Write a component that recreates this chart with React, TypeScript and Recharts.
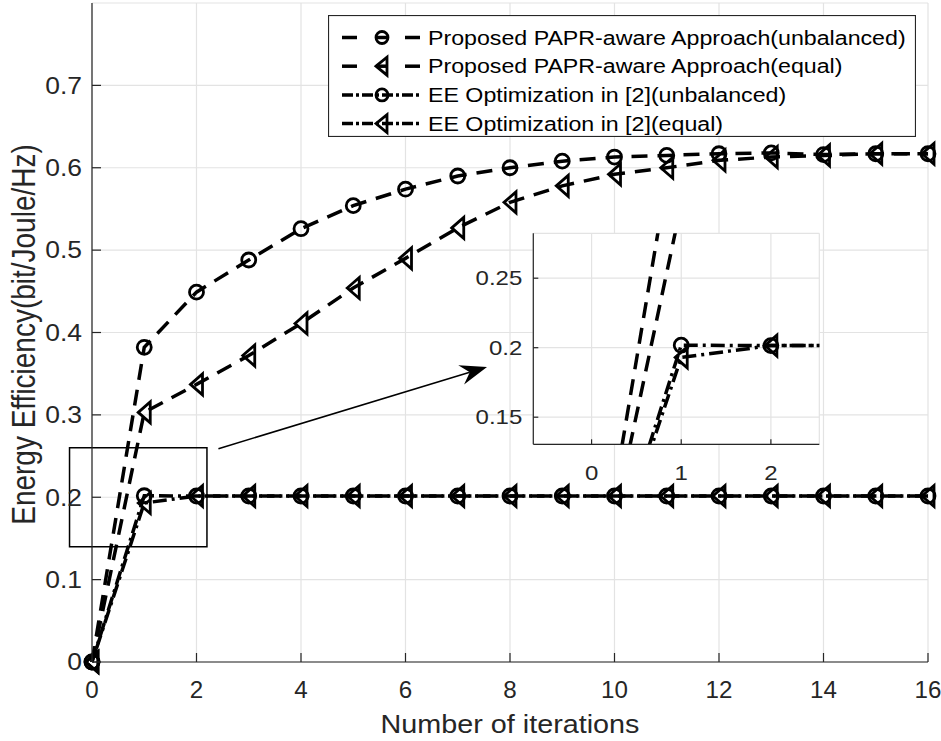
import {
  CartesianGrid,
  Legend,
  Line,
  LineChart,
  ReferenceArea,
  ReferenceLine,
  XAxis,
  YAxis,
} from 'recharts'

// energy efficiency vs. iteration count, four schemes
const iterations = [0, 1, 2, 3, 4, 5, 6, 7, 8, 9, 10, 11, 12, 13, 14, 15, 16]
const proposedUnbalanced = [
  0, 0.382, 0.449, 0.488, 0.526, 0.554, 0.574, 0.59, 0.6, 0.608, 0.613, 0.615, 0.617, 0.618, 0.616,
  0.617, 0.617,
]
const proposedEqual = [
  0, 0.303, 0.337, 0.372, 0.411, 0.454, 0.49, 0.527, 0.558, 0.578, 0.592, 0.6, 0.609, 0.613, 0.615,
  0.617, 0.617,
]
const eeUnbalanced = [
  0, 0.2018, 0.2015, 0.2015, 0.2015, 0.2015, 0.2015, 0.2015, 0.2015, 0.2015, 0.2015, 0.2015, 0.2015,
  0.2015, 0.2015, 0.2015, 0.2015,
]
const eeEqual = [
  0, 0.193, 0.2015, 0.2015, 0.2015, 0.2015, 0.2015, 0.2015, 0.2015, 0.2015, 0.2015, 0.2015, 0.2015,
  0.2015, 0.2015, 0.2015, 0.2015,
]

const seriesNames = [
  'Proposed PAPR-aware Approach(unbalanced)',
  'Proposed PAPR-aware Approach(equal)',
  'EE Optimization in [2](unbalanced)',
  'EE Optimization in [2](equal)',
]

const mainXDomain = [0, 16]
const mainYDomain = [0, 0.8]
const mainXTicks = [0, 2, 4, 6, 8, 10, 12, 14, 16]
const mainYTicks = [0, 0.1, 0.2, 0.3, 0.4, 0.5, 0.6, 0.7]

// zoomed-in window shown in the inset
const insetXDomain = [-0.65, 2.54]
const insetYDomain = [0.1305, 0.2823]
const insetXTicks = [0, 1, 2]
const insetYTicks = [0.15, 0.2, 0.25]

// annotation: box around the zoomed region and the arrow pointing to the inset
const zoomBox = { x1: -0.43, x2: 2.2, y1: 0.14, y2: 0.26 }
const arrowFrom = { x: 2.42, y: 0.259 }
const arrowTo = { x: 7.56, y: 0.358 }

const chartData = iterations.map((it, i) => ({
  it,
  pu: proposedUnbalanced[i],
  pe: proposedEqual[i],
  eu: eeUnbalanced[i],
  ee: eeEqual[i],
}))

const FONT = '"Liberation Sans", Arial, Helvetica, sans-serif'
const INK = '#262626'
const GRID = '#e3e3e3'
const DASHED = '16 10'
const DASH_DOT = '14 5 3 5'

const stretch = (x: number, y: number, sx: number) => `translate(${x},${y}) scale(${sx},1)`

// ---- markers ----
function circleDot(r: number) {
  return (p: any) => {
    if (p.cx == null || p.cy == null) return <g key={p.index} />
    return (
      <circle key={p.index} cx={p.cx} cy={p.cy} r={r} fill="none" stroke="#000" strokeWidth={2.8} />
    )
  }
}

function triangleDot(w: number, h: number) {
  return (p: any) => {
    if (p.cx == null || p.cy == null) return <g key={p.index} />
    const { cx, cy } = p
    return (
      <path
        key={p.index}
        d={`M${cx - w / 2},${cy} L${cx + w / 2},${cy - h / 2} L${cx + w / 2},${cy + h / 2} Z`}
        fill="none"
        stroke="#000"
        strokeWidth={2.8}
      />
    )
  }
}

// ---- ticks (drawn inward, MATLAB style) ----
function bottomTick(len: number, fs: number, sx: number, gap: number) {
  return (p: any) => (
    <g>
      <line x1={p.x} y1={p.y} x2={p.x} y2={p.y - len} stroke={INK} strokeWidth={1.2} />
      <text
        transform={stretch(p.x, p.y + gap, sx)}
        textAnchor="middle"
        fontFamily={FONT}
        fontSize={fs}
        fill={INK}
      >
        {p.payload.value}
      </text>
    </g>
  )
}

function leftTick(len: number, fs: number, sx: number, gap: number) {
  return (p: any) => (
    <g>
      <line x1={p.x} y1={p.y} x2={p.x + len} y2={p.y} stroke={INK} strokeWidth={1.2} />
      <text
        transform={stretch(p.x - gap, p.y + fs * 0.36, sx)}
        textAnchor="end"
        fontFamily={FONT}
        fontSize={fs}
        fill={INK}
      >
        {p.payload.value}
      </text>
    </g>
  )
}

function topTick(len: number) {
  return (p: any) => (
    <line x1={p.x} y1={p.y} x2={p.x} y2={p.y + len} stroke={INK} strokeWidth={1.2} />
  )
}

function rightTick(len: number) {
  return (p: any) => (
    <line x1={p.x} y1={p.y} x2={p.x - len} y2={p.y} stroke={INK} strokeWidth={1.2} />
  )
}

function XTitle(props: any) {
  const vb = props.viewBox ?? { x: 92, y: 662, width: 836, height: 79 }
  return (
    <text
      transform={stretch(vb.x + vb.width / 2, vb.y + 71, 1.15)}
      textAnchor="middle"
      fontFamily={FONT}
      fontSize={25}
      fill={INK}
    >
      Number of iterations
    </text>
  )
}

function YTitle(props: any) {
  const vb = props.viewBox ?? { x: 0, y: 3, width: 92, height: 659 }
  return (
    <text
      transform={`translate(35,${vb.y + vb.height / 2 + 2}) scale(1.2,1) rotate(-90)`}
      textAnchor="middle"
      fontFamily={FONT}
      fontSize={28}
      fill={INK}
    >
      Energy Efficiency(bit/Joule/Hz)
    </text>
  )
}

function ArrowShape(p: any) {
  const { x1, y1, x2, y2 } = p
  const len = Math.hypot(x2 - x1, y2 - y1)
  const ux = (x2 - x1) / len
  const uy = (y2 - y1) / len
  const head = 27
  const half = 10
  const notch = 9
  const bx = x2 - ux * head
  const by = y2 - uy * head
  const mx = x2 - ux * (head - notch)
  const my = y2 - uy * (head - notch)
  const pts = [
    [x2, y2],
    [bx - uy * half, by + ux * half],
    [mx, my],
    [bx + uy * half, by - ux * half],
  ]
  return (
    <g>
      <line x1={x1} y1={y1} x2={mx} y2={my} stroke="#000" strokeWidth={1.6} />
      <polygon points={pts.map((q) => q.join(',')).join(' ')} fill="#000" />
    </g>
  )
}

// ---- legend ----
const legendStyles = [
  { dash: DASHED, marker: 'circle' },
  { dash: DASHED, marker: 'triangle' },
  { dash: DASH_DOT, marker: 'circle' },
  { dash: DASH_DOT, marker: 'triangle' },
]

function LegendBox() {
  return (
    <svg width={588} height={122} style={{ display: 'block' }}>
      <rect x={0.5} y={0.5} width={587} height={121} fill="#fff" stroke={INK} strokeWidth={1.2} />
      {seriesNames.map((name, i) => {
        const cy = 22.5 + i * 28.7
        const st = legendStyles[i]
        return (
          <g key={name}>
            {st.dash === DASHED ? (
              <g stroke="#000" strokeWidth={3.5}>
                <line x1={14} y1={cy} x2={29} y2={cy} />
                <line x1={48} y1={cy} x2={60} y2={cy} />
                <line x1={77} y1={cy} x2={92} y2={cy} />
              </g>
            ) : (
              <line
                x1={14}
                y1={cy}
                x2={94}
                y2={cy}
                stroke="#000"
                strokeWidth={3.5}
                strokeDasharray="11 3 3 3"
              />
            )}
            {st.marker === 'circle' ? (
              <circle cx={54} cy={cy} r={6} fill="none" stroke="#000" strokeWidth={2.8} />
            ) : (
              <path
                d={`M${48},${cy} L${59},${cy - 9} L${59},${cy + 9} Z`}
                fill="none"
                stroke="#000"
                strokeWidth={2.8}
              />
            )}
            <text
              transform={stretch(100, cy + 7, 1.16)}
              fontFamily={FONT}
              fontSize={20}
              fill="#000"
            >
              {name}
            </text>
          </g>
        )
      })}
    </svg>
  )
}

function seriesLines() {
  return [
    <Line
      key="pu"
      type="linear"
      dataKey="pu"
      name={seriesNames[0]}
      stroke="#000"
      strokeWidth={3.5}
      strokeDasharray={DASHED}
      dot={circleDot(7)}
      activeDot={false}
      isAnimationActive={false}
    />,
    <Line
      key="pe"
      type="linear"
      dataKey="pe"
      name={seriesNames[1]}
      stroke="#000"
      strokeWidth={3.5}
      strokeDasharray={DASHED}
      dot={triangleDot(12, 21)}
      activeDot={false}
      isAnimationActive={false}
    />,
    <Line
      key="eu"
      type="linear"
      dataKey="eu"
      name={seriesNames[2]}
      stroke="#000"
      strokeWidth={3.5}
      strokeDasharray={DASH_DOT}
      dot={circleDot(7)}
      activeDot={false}
      isAnimationActive={false}
    />,
    <Line
      key="ee"
      type="linear"
      dataKey="ee"
      name={seriesNames[3]}
      stroke="#000"
      strokeWidth={3.5}
      strokeDasharray={DASH_DOT}
      strokeDashoffset={13}
      dot={triangleDot(12, 21)}
      activeDot={false}
      isAnimationActive={false}
    />,
  ]
}

export default function App() {
  return (
    <div
      style={{
        position: 'absolute',
        left: 0,
        top: 0,
        width: 941,
        height: 741,
        background: '#fff',
        fontFamily: FONT,
      }}
    >
      <LineChart
        width={941}
        height={741}
        data={chartData}
        margin={{ top: 3, right: 13, bottom: 0, left: 0 }}
      >
        <CartesianGrid stroke={GRID} strokeWidth={1.2} />
        <XAxis
          dataKey="it"
          type="number"
          domain={mainXDomain}
          ticks={mainXTicks}
          height={79}
          tickSize={0}
          tickMargin={0}
          axisLine={{ stroke: INK, strokeWidth: 1.2 }}
          tick={bottomTick(9, 23, 1.05, 36)}
          label={{ content: XTitle }}
        />
        <XAxis
          xAxisId="top"
          orientation="top"
          type="number"
          domain={mainXDomain}
          ticks={mainXTicks}
          height={0}
          tickSize={0}
          tickMargin={0}
          axisLine={{ stroke: INK, strokeWidth: 1.2 }}
          tick={topTick(9)}
        />
        <YAxis
          type="number"
          domain={mainYDomain}
          ticks={mainYTicks}
          width={92}
          tickSize={0}
          tickMargin={0}
          axisLine={{ stroke: INK, strokeWidth: 1.2 }}
          tick={leftTick(9, 23, 1.15, 10)}
          label={{ content: YTitle }}
        />
        <YAxis
          yAxisId="right"
          orientation="right"
          type="number"
          domain={mainYDomain}
          ticks={mainYTicks}
          width={0}
          tickSize={0}
          tickMargin={0}
          axisLine={{ stroke: INK, strokeWidth: 1.2 }}
          tick={rightTick(9)}
        />
        {seriesLines()}
        <ReferenceArea
          x1={zoomBox.x1}
          x2={zoomBox.x2}
          y1={zoomBox.y1}
          y2={zoomBox.y2}
          ifOverflow="visible"
          fill="none"
          stroke="#000"
          strokeWidth={1.5}
        />
        <ReferenceLine
          segment={[arrowFrom, arrowTo]}
          ifOverflow="visible"
          stroke="#000"
          shape={ArrowShape}
        />
        <Legend
          layout="vertical"
          align="center"
          verticalAlign="middle"
          content={() => <LegendBox />}
          wrapperStyle={{ left: 328, top: 15, width: 588, height: 122 }}
        />
      </LineChart>

      {/* inset: zoom on the first two iterations */}
      <div style={{ position: 'absolute', left: 470, top: 225, width: 360, height: 260 }}>
        <LineChart
          width={360}
          height={260}
          data={chartData}
          margin={{ top: 8.3, right: 10.7, bottom: 0, left: 0 }}
        >
          <CartesianGrid stroke={GRID} strokeWidth={1.2} fill="#fff" />
          <XAxis
            dataKey="it"
            type="number"
            domain={insetXDomain}
            ticks={insetXTicks}
            allowDataOverflow
            height={40.7}
            tickSize={0}
            tickMargin={0}
            axisLine={{ stroke: INK, strokeWidth: 1.2 }}
            tick={bottomTick(5, 20, 1.2, 36)}
          />
          <XAxis
            xAxisId="top"
            orientation="top"
            type="number"
            domain={insetXDomain}
            ticks={insetXTicks}
            allowDataOverflow
            height={0}
            tickSize={0}
            tickMargin={0}
            axisLine={{ stroke: INK, strokeWidth: 1.2 }}
            tick={topTick(5)}
          />
          <YAxis
            type="number"
            domain={insetYDomain}
            ticks={insetYTicks}
            allowDataOverflow
            width={63.3}
            tickSize={0}
            tickMargin={0}
            axisLine={{ stroke: INK, strokeWidth: 1.2 }}
            tick={leftTick(5, 20, 1.2, 11)}
          />
          <YAxis
            yAxisId="right"
            orientation="right"
            type="number"
            domain={insetYDomain}
            ticks={insetYTicks}
            allowDataOverflow
            width={0}
            tickSize={0}
            tickMargin={0}
            axisLine={{ stroke: INK, strokeWidth: 1.2 }}
            tick={rightTick(5)}
          />
          {seriesLines()}
        </LineChart>
      </div>
    </div>
  )
}
